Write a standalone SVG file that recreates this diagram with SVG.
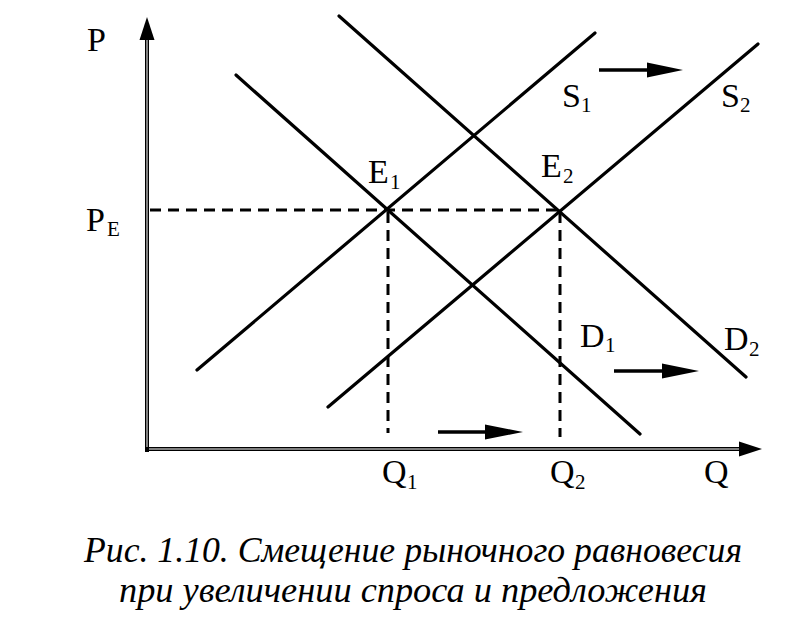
<svg xmlns="http://www.w3.org/2000/svg" width="794" height="630" viewBox="0 0 794 630">
<style>
.ax{stroke:#000;stroke-width:4;fill:none}
.axc{stroke:#fff;stroke-width:1;fill:none}
.cv{stroke:#000;stroke-width:3.2;fill:none;stroke-linecap:round}
.ds{stroke:#000;stroke-width:3;fill:none;stroke-dasharray:11 7}
.ar{stroke:#000;stroke-width:3.5;fill:none}
.hd{fill:#000}
.lb{font-family:"Liberation Serif","Times New Roman",serif;font-size:34px;fill:#000}
.sb{font-family:"Liberation Serif","Times New Roman",serif;font-size:21px;fill:#000}
.cap{font-family:"Liberation Serif","Times New Roman",serif;font-style:italic;font-size:35px;fill:#000}
</style>
<rect width="794" height="630" fill="#fff"/>
<g id="axes">
<line class="ax" x1="147" y1="452" x2="147" y2="38"/>
<line class="axc" x1="147" y1="450" x2="147" y2="40"/>
<polygon class="hd" points="147,17 139.5,40 154.5,40"/>
<line class="ax" x1="145" y1="449" x2="742" y2="449"/>
<line class="axc" x1="149" y1="449" x2="740" y2="449"/>
<polygon class="hd" points="762,449 739,441.5 739,456.5"/>
</g>
<g id="guides">
<line class="ds" x1="150" y1="210" x2="560" y2="210"/>
<line class="ds" x1="388" y1="212" x2="388" y2="433"/>
<line class="ds" x1="560" y1="212" x2="560" y2="437"/>
</g>
<g id="connectors">
<line id="D1" class="cv" x1="236" y1="75" x2="640" y2="434"/>
<line id="D2" class="cv" x1="339" y1="16" x2="746" y2="377"/>
<line id="S1" class="cv" x1="197" y1="370" x2="595" y2="33"/>
<line id="S2" class="cv" x1="328" y1="407" x2="758" y2="44"/>
</g>
<g id="shift-arrows">
<line class="ar" x1="599" y1="70" x2="650" y2="70"/>
<polygon class="hd" points="683,70 647,62.5 647,77.5"/>
<line class="ar" x1="614" y1="371" x2="665" y2="371"/>
<polygon class="hd" points="699,371 662,363.5 662,378.5"/>
<line class="ar" x1="438" y1="432" x2="488" y2="432"/>
<polygon class="hd" points="523,432 485,424.5 485,439.5"/>
</g>
<g id="labels">
<text class="lb" x="87" y="51">P</text>
<g id="PE"><text class="lb" x="86" y="231">P</text><text class="sb" x="107" y="236">E</text></g>
<g id="E1"><text class="lb" x="368" y="183">E</text><text class="sb" x="390" y="189">1</text></g>
<g id="E2"><text class="lb" x="541" y="177">E</text><text class="sb" x="563" y="183">2</text></g>
<g id="S1-label"><text class="lb" x="562" y="107">S</text><text class="sb" x="581" y="112">1</text></g>
<g id="S2-label"><text class="lb" x="721" y="107">S</text><text class="sb" x="740" y="112">2</text></g>
<g id="D1-label"><text class="lb" x="580" y="347">D</text><text class="sb" x="605" y="352">1</text></g>
<g id="D2-label"><text class="lb" x="724" y="350">D</text><text class="sb" x="749" y="356">2</text></g>
<g id="Q1"><text class="lb" x="382" y="483">Q</text><text class="sb" x="407" y="489">1</text></g>
<g id="Q2"><text class="lb" x="550" y="483">Q</text><text class="sb" x="575" y="489">2</text></g>
<text class="lb" x="704" y="483">Q</text>
</g>
<g id="caption">
<text class="cap" x="84" y="562" textLength="658" lengthAdjust="spacingAndGlyphs">Рис. 1.10. Смещение рыночного равновесия</text>
<text class="cap" x="119" y="602" textLength="588" lengthAdjust="spacingAndGlyphs">при увеличении спроса и предложения</text>
</g>
</svg>
